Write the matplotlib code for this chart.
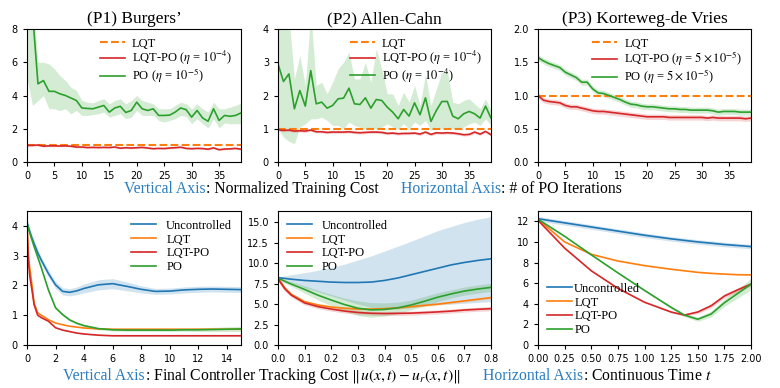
import matplotlib

matplotlib.use("Agg")
import matplotlib.pyplot as plt
import numpy as np

plt.rcParams["mathtext.fontset"] = "stix"
plt.rcParams["xtick.labelsize"] = 7
plt.rcParams["ytick.labelsize"] = 7
plt.rcParams["xtick.major.size"] = 3
plt.rcParams["ytick.major.size"] = 3

SERIF = "Liberation Serif"
C_BLUE, C_ORANGE, C_RED, C_GREEN = "#1f77b4", "#ff7f0e", "#d62728", "#2ca02c"
CAPTION_BLUE = "#2b7dbf"

# ---- top row: normalized training cost vs PO iteration ----
iters = np.arange(40)

p1_lqtpo = [1.0, 1.0, 1.02, 0.95, 0.97, 0.97, 0.96, 0.97, 0.95, 0.9,
            0.9, 0.87, 0.88, 0.87, 0.88, 0.87, 0.9, 0.83, 0.86, 0.84,
            0.86, 0.88, 0.84, 0.8, 0.82, 0.81, 0.84, 0.86, 0.89, 0.82,
            0.8, 0.82, 0.81, 0.77, 0.85, 0.74, 0.78, 0.79, 0.82, 0.77]
p1_po = [10.0, 9.0, 4.7, 4.9, 4.25, 4.25, 4.1, 4.0, 3.85, 3.7,
         3.25, 3.22, 3.2, 3.3, 3.4, 3.0, 3.25, 3.35, 2.98, 3.1,
         3.6, 3.2, 3.1, 3.2, 2.8, 2.8, 2.82, 3.0, 3.25, 3.15,
         2.7, 3.1, 2.65, 2.45, 3.2, 2.5, 2.8, 2.75, 2.8, 2.95]
p1_po_hi = [11.0, 10.0, 6.0, 6.0, 5.9, 5.6, 5.2, 4.9, 4.5, 4.3,
            3.7, 3.6, 3.55, 3.7, 3.8, 3.5, 3.7, 3.8, 3.5, 3.7,
            4.0, 3.7, 3.6, 3.5, 3.2, 3.2, 3.2, 3.4, 3.6, 3.5,
            3.2, 3.5, 3.2, 3.0, 3.6, 3.2, 3.2, 3.3, 3.4, 3.55]
p1_po_lo = [5.0, 3.4, 3.7, 4.0, 3.2, 3.2, 3.1, 3.2, 2.9, 3.1,
            2.8, 2.8, 2.85, 2.9, 3.0, 2.7, 2.8, 2.9, 2.6, 2.7,
            3.1, 2.8, 2.8, 2.8, 2.5, 2.4, 2.5, 2.6, 2.8, 2.75,
            2.3, 2.6, 2.3, 2.05, 2.6, 2.05, 2.35, 2.3, 2.3, 2.3]

p2_lqtpo = [0.97, 0.95, 0.96, 0.93, 0.94, 0.93, 0.96, 0.91, 0.91, 0.89,
            0.9, 0.9, 0.9, 0.91, 0.89, 0.88, 0.89, 0.9, 0.9, 0.89,
            0.86, 0.87, 0.85, 0.86, 0.86, 0.87, 0.84, 0.9, 0.83, 0.88,
            0.87, 0.88, 0.87, 0.85, 0.82, 0.83, 0.9, 0.84, 0.92, 0.82]
p2_po = [2.95, 2.42, 2.65, 1.6, 2.15, 1.68, 2.75, 1.75, 1.8, 1.62,
         1.7, 1.9, 1.92, 2.22, 1.75, 1.73, 1.93, 1.62, 1.88, 1.85,
         1.65, 1.5, 1.3, 1.58, 1.38, 1.78, 1.42, 1.93, 1.22, 1.55,
         1.82, 1.82, 1.38, 1.3, 1.45, 1.52, 1.45, 1.32, 1.68, 1.32]
p2_po_hi = [4.6, 4.5, 4.4, 2.5, 3.2, 2.3, 4.5, 2.3, 2.4, 2.05,
            2.4, 2.8, 3.0, 3.3, 2.5, 2.5, 3.0, 2.4, 3.4, 2.8,
            2.05, 2.05, 1.7, 2.1, 1.8, 2.3, 1.7, 2.65, 1.7, 2.2,
            2.7, 2.75, 1.8, 1.75, 1.85, 1.9, 1.75, 1.6, 1.9, 1.55]
p2_po_lo = [1.0, 0.75, 0.62, 0.55, 1.05, 1.15, 1.3, 1.3, 1.35, 1.25,
            1.1, 1.1, 1.0, 1.2, 1.1, 1.05, 1.0, 1.0, 1.0, 1.05,
            1.15, 1.05, 1.0, 1.15, 1.0, 1.2, 1.1, 1.25, 0.95, 1.05,
            1.0, 1.05, 1.0, 1.0, 1.05, 1.15, 1.2, 1.1, 1.3, 1.1]

p3_lqtpo = [1.0, 0.93, 0.91, 0.9, 0.89, 0.85, 0.83, 0.83, 0.81, 0.79,
            0.77, 0.76, 0.76, 0.75, 0.74, 0.73, 0.72, 0.71, 0.7, 0.69,
            0.68, 0.68, 0.68, 0.68, 0.67, 0.67, 0.67, 0.67, 0.67, 0.67,
            0.67, 0.66, 0.67, 0.66, 0.66, 0.66, 0.66, 0.66, 0.65, 0.66]
p3_po = [1.57, 1.52, 1.48, 1.45, 1.42, 1.35, 1.31, 1.27, 1.2, 1.2,
         1.1, 1.04, 1.03, 1.0, 0.97, 0.94, 0.9, 0.87, 0.86, 0.84,
         0.83, 0.83, 0.82, 0.81, 0.8, 0.8, 0.79, 0.79, 0.78, 0.78,
         0.78, 0.78, 0.77, 0.75, 0.76, 0.76, 0.76, 0.75, 0.75, 0.75]
p3_lqtpo_sd = 0.04
p3_po_sd = 0.045

top_titles = ["(P1) Burgers’", "(P2) Allen-Cahn", "(P3) Korteweg-de Vries"]
top_ylims = [8, 4, 2]
top_lqtpo_labels = [r"LQT-PO ($\eta$ = $10^{-4}$)", r"LQT-PO ($\eta$ = $10^{-4}$)",
                    r"LQT-PO ($\eta$ = $5\times10^{-5}$)"]
top_po_labels = [r"PO ($\eta$ = $10^{-5}$)", r"PO ($\eta$ = $10^{-4}$)",
                 r"PO ($\eta$ = $5\times10^{-5}$)"]

# ---- bottom row: tracking cost over time ----
b1_t = [0, 0.1, 0.2, 0.3, 0.5, 0.75, 1, 1.5, 2, 2.5, 3, 3.5, 4, 5, 6, 7, 8,
        9, 10, 11, 12, 13, 14, 15]
b1_unc = [4.1, 3.95, 3.8, 3.65, 3.4, 3.1, 2.85, 2.4, 2.02, 1.8, 1.77, 1.82,
          1.9, 2.02, 2.06, 1.97, 1.87, 1.8, 1.81, 1.85, 1.87, 1.88, 1.87, 1.86]
b1_unc_sd = [0.15, 0.13, 0.12, 0.12, 0.12, 0.12, 0.12, 0.12, 0.12, 0.12,
             0.12, 0.13, 0.15, 0.17, 0.17, 0.15, 0.12, 0.1, 0.1, 0.1, 0.1,
             0.1, 0.1, 0.1]
b1_lqt = [4.0, 3.0, 2.55, 2.2, 1.4, 1.08, 1.0, 0.85, 0.74, 0.68, 0.63, 0.6,
          0.57, 0.54, 0.53, 0.53, 0.53, 0.53, 0.53, 0.53, 0.53, 0.53, 0.53,
          0.53]
b1_lqtpo = [4.0, 2.8, 2.3, 2.0, 1.35, 1.0, 0.92, 0.8, 0.58, 0.5, 0.45, 0.4,
            0.37, 0.33, 0.31, 0.31, 0.31, 0.31, 0.31, 0.31, 0.31, 0.31, 0.31,
            0.31]
b1_po = [4.1, 3.9, 3.75, 3.6, 3.3, 2.95, 2.6, 1.85, 1.25, 1.02, 0.84, 0.73,
         0.65, 0.55, 0.51, 0.5, 0.5, 0.5, 0.5, 0.51, 0.51, 0.52, 0.53, 0.54]
b1_po_sd = [0.1, 0.05, 0.04, 0.04, 0.04, 0.04, 0.04, 0.04, 0.04, 0.04, 0.04,
            0.04, 0.04, 0.04, 0.04, 0.04, 0.04, 0.04, 0.05, 0.05, 0.06, 0.07,
            0.08, 0.09]

b2_t = [0, 0.025, 0.05, 0.1, 0.15, 0.2, 0.25, 0.3, 0.35, 0.4, 0.45, 0.5,
        0.55, 0.6, 0.65, 0.7, 0.75, 0.8]
b2_unc = [8.25, 8.15, 8.05, 7.9, 7.8, 7.7, 7.65, 7.65, 7.7, 7.9, 8.2, 8.6,
          9.0, 9.4, 9.8, 10.1, 10.35, 10.55]
b2_unc_hi = [8.35, 8.45, 8.6, 8.85, 9.15, 9.5, 9.9, 10.4, 10.9, 11.5, 12.1,
             12.7, 13.35, 14.0, 14.5, 15.0, 15.4, 15.7]
b2_unc_lo = [8.15, 7.9, 7.6, 7.0, 6.5, 6.0, 5.5, 5.0, 4.6, 4.4, 4.4, 4.6,
             4.8, 4.95, 5.0, 5.1, 5.2, 5.3]
b2_lqt = [8.2, 7.0, 6.2, 5.3, 4.9, 4.65, 4.5, 4.4, 4.4, 4.45, 4.55, 4.7,
          4.85, 5.0, 5.2, 5.4, 5.6, 5.8]
b2_lqt_sd = 0.15
b2_lqtpo = [8.1, 6.9, 6.1, 5.15, 4.7, 4.4, 4.15, 3.98, 3.88, 3.85, 3.87, 3.9,
            3.97, 4.05, 4.15, 4.28, 4.37, 4.45]
b2_lqtpo_sd = 0.25
b2_po = [8.2, 7.8, 7.45, 6.8, 6.1, 5.5, 4.95, 4.5, 4.3, 4.35, 4.55, 4.9,
         5.35, 5.85, 6.25, 6.6, 6.85, 7.05]
b2_po_sd = [0.1, 0.2, 0.3, 0.45, 0.6, 0.7, 0.8, 0.9, 0.9, 0.8, 0.7, 0.6,
            0.6, 0.55, 0.5, 0.5, 0.5, 0.5]

b3_t = [0, 0.25, 0.5, 0.75, 1.0, 1.25, 1.375, 1.5, 1.625, 1.75, 1.875, 2.0]
b3_unc = [12.25, 11.85, 11.45, 11.05, 10.65, 10.3, 10.15, 10.0, 9.88, 9.75,
          9.65, 9.55]
b3_unc_sd = 0.22
b3_lqt = [12.2, 10.0, 8.8, 8.15, 7.7, 7.35, 7.2, 7.05, 6.95, 6.88, 6.82, 6.8]
b3_lqtpo = [12.1, 9.4, 7.2, 5.5, 4.15, 3.2, 2.9, 3.2, 3.8, 4.75, 5.35, 5.9]
b3_lqtpo_sd = [0.05, 0.05, 0.05, 0.05, 0.05, 0.08, 0.1, 0.15, 0.2, 0.2,
               0.2, 0.2]
b3_po = [12.2, 10.55, 8.75, 7.0, 5.3, 3.65, 2.9, 2.5, 3.0, 4.1, 5.0, 5.9]
b3_po_sd = [0.05, 0.05, 0.05, 0.05, 0.08, 0.1, 0.15, 0.2, 0.28, 0.35,
            0.45, 0.55]

bottom_xlims = [15, 0.8, 2.0]
bottom_ylims = [4.5, 16.4, 13.0]


def band(ax, x, mean, sd, color, alpha=0.2):
    mean = np.asarray(mean, dtype=float)
    sd = np.asarray(sd, dtype=float)
    ax.fill_between(x, mean - sd, mean + sd, color=color, alpha=alpha, lw=0)


fig = plt.figure(figsize=(7.8, 3.88), dpi=100)
lefts = [27 / 780, 278 / 780, 538 / 780]
widths = [214 / 780, 213 / 780, 213 / 780]
top_axes = [fig.add_axes([lefts[i], 1 - 162 / 388, widths[i], 133 / 388])
            for i in range(3)]
bot_axes = [fig.add_axes([lefts[i], 1 - 345 / 388, widths[i], 134 / 388])
            for i in range(3)]

top_data = [
    (p1_lqtpo, 0.05, p1_po, p1_po_lo, p1_po_hi),
    (p2_lqtpo, 0.04, p2_po, p2_po_lo, p2_po_hi),
    (p3_lqtpo, p3_lqtpo_sd, p3_po, None, None),
]
for i, ax in enumerate(top_axes):
    lqtpo, lqtpo_sd, po, po_lo, po_hi = top_data[i]
    if po_lo is None:
        band(ax, iters, po, p3_po_sd, C_GREEN)
    else:
        ax.fill_between(iters, po_lo, po_hi, color=C_GREEN, alpha=0.2, lw=0)
    band(ax, iters, lqtpo, lqtpo_sd, C_RED)
    ax.plot(iters, np.ones(len(iters)), "--", color=C_ORANGE, lw=1.5, label="LQT")
    ax.plot(iters, lqtpo, color=C_RED, lw=1.2, label=top_lqtpo_labels[i])
    ax.plot(iters, po, color=C_GREEN, lw=1.2, label=top_po_labels[i])
    ax.set_xlim(0, 39)
    ax.set_ylim(0, top_ylims[i])
    ax.set_xticks(range(0, 40, 5))
    ax.set_title(top_titles[i], family=SERIF, fontsize=12.5, pad=4)
    ax.legend(loc="upper right", frameon=False, prop={"family": SERIF, "size": 9},
              handlelength=2.0, labelspacing=-0.05, handletextpad=0.6,
              borderaxespad=0.3)
top_axes[0].set_yticks([0, 2, 4, 6, 8])
top_axes[1].set_yticks([0, 1, 2, 3, 4])
top_axes[2].set_yticks([0, 0.5, 1.0, 1.5, 2.0])

bottom_data = [
    (b1_t, b1_unc, b1_unc_sd, b1_lqt, 0.0, b1_lqtpo, 0.01, b1_po, b1_po_sd),
    (b2_t, b2_unc, None, b2_lqt, b2_lqt_sd, b2_lqtpo, b2_lqtpo_sd, b2_po, b2_po_sd),
    (b3_t, b3_unc, b3_unc_sd, b3_lqt, 0.03, b3_lqtpo, b3_lqtpo_sd, b3_po, b3_po_sd),
]
legend_locs = ["upper right", "upper left", "lower left"]
for i, ax in enumerate(bot_axes):
    t, unc, unc_sd, lqt, lqt_sd, lqtpo, lqtpo_sd, po, po_sd = bottom_data[i]
    if unc_sd is None:
        ax.fill_between(t, b2_unc_lo, b2_unc_hi, color=C_BLUE, alpha=0.2, lw=0)
    else:
        band(ax, t, unc, unc_sd, C_BLUE)
    band(ax, t, lqt, lqt_sd, C_ORANGE)
    band(ax, t, lqtpo, lqtpo_sd, C_RED)
    band(ax, t, po, po_sd, C_GREEN)
    ax.plot(t, unc, color=C_BLUE, lw=1.2, label="Uncontrolled")
    ax.plot(t, lqt, color=C_ORANGE, lw=1.2, label="LQT")
    ax.plot(t, lqtpo, color=C_RED, lw=1.2, label="LQT-PO")
    ax.plot(t, po, color=C_GREEN, lw=1.2, label="PO")
    ax.set_xlim(0, bottom_xlims[i])
    ax.set_ylim(0, bottom_ylims[i])
    ax.legend(loc=legend_locs[i], frameon=False, prop={"family": SERIF, "size": 9},
              handlelength=2.0, labelspacing=0.15,
              handletextpad=0.2 if i == 2 else 0.8, borderaxespad=0.3)
bot_axes[0].set_xticks(range(0, 15, 2))
bot_axes[0].set_yticks([0, 1, 2, 3, 4])
bot_axes[1].set_xticks(np.arange(0, 0.81, 0.1))
bot_axes[1].set_yticks(np.arange(0, 15.1, 2.5))
bot_axes[1].yaxis.set_major_formatter(matplotlib.ticker.FormatStrFormatter("%.1f"))
bot_axes[1].xaxis.set_major_formatter(matplotlib.ticker.FormatStrFormatter("%.1f"))
bot_axes[2].set_xticks(np.arange(0, 2.01, 0.25))
bot_axes[2].xaxis.set_major_formatter(matplotlib.ticker.FormatStrFormatter("%.2f"))
bot_axes[2].set_yticks(range(0, 13, 2))


def caption(x0, y, pieces):
    renderer = fig.canvas.get_renderer()
    x = x0
    for text, color, gap in pieces:
        x += gap / 780
        item = fig.text(x, y, text, color=color, family=SERIF, fontsize=11.3,
                        va="baseline", ha="left")
        box = item.get_window_extent(renderer)
        x = box.x1 / 780


caption(124 / 780, 1 - 193 / 388, [
    ("Vertical Axis", CAPTION_BLUE, 0),
    (": Normalized Training Cost", "black", 0),
    ("Horizontal Axis", CAPTION_BLUE, 23),
    (": # of PO Iterations", "black", 0),
])
caption(63 / 780, 1 - 380 / 388, [
    ("Vertical Axis", CAPTION_BLUE, 0),
    (r": Final Controller Tracking Cost $\|u(x,t) - u_r(x,t)\|$", "black", 0),
    ("Horizontal Axis", CAPTION_BLUE, 23),
    (": Continuous Time $t$", "black", 0),
])

fig.savefig("out.png", dpi=100)
